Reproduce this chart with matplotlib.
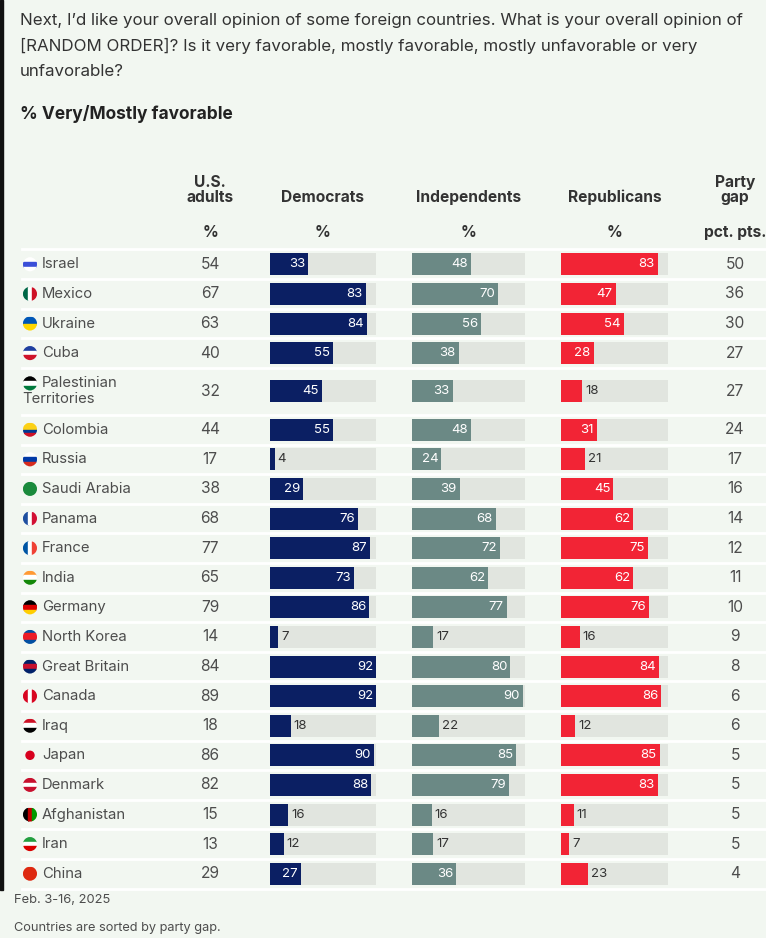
import matplotlib
matplotlib.use("Agg")
from matplotlib import pyplot as plt
from matplotlib.patches import Rectangle, Circle

plt.rcParams['font.family'] = ['Inter', 'DejaVu Sans']

countries = ["Israel", "Mexico", "Ukraine", "Cuba", "Palestinian\nTerritories", "Colombia",
             "Russia", "Saudi Arabia", "Panama", "France", "India", "Germany", "North Korea",
             "Great Britain", "Canada", "Iraq", "Japan", "Denmark", "Afghanistan", "Iran", "China"]
us_adults = [54, 67, 63, 40, 32, 44, 17, 38, 68, 77, 65, 79, 14, 84, 89, 18, 86, 82, 15, 13, 29]
democrats = [33, 83, 84, 55, 45, 55, 4, 29, 76, 87, 73, 86, 7, 92, 92, 18, 90, 88, 16, 12, 27]
independents = [48, 70, 56, 38, 33, 48, 24, 39, 68, 72, 62, 77, 17, 80, 90, 22, 85, 79, 16, 17, 36]
republicans = [83, 47, 54, 28, 18, 31, 21, 45, 62, 75, 62, 76, 16, 84, 86, 12, 85, 83, 11, 7, 23]
party_gap = [50, 36, 30, 27, 27, 24, 17, 16, 14, 12, 11, 10, 9, 8, 6, 6, 5, 5, 5, 5, 4]

# flag colours: (orientation, stripes, centre dot)
flags = [
    ("h", ["#ffffff", "#3b4fd8", "#ffffff"], None),
    ("v", ["#006847", "#ffffff", "#ce1126"], None),
    ("h", ["#0057b7", "#ffd700"], None),
    ("h", ["#1f3fa0", "#ffffff", "#cf142b"], None),
    ("h", ["#000000", "#ffffff", "#007a3d"], None),
    ("h", ["#fcd116", "#fcd116", "#003893", "#ce1126"], None),
    ("h", ["#ffffff", "#0039a6", "#d52b1e"], None),
    ("h", ["#1a8a3c"], None),
    ("v", ["#1f4fa0", "#ffffff", "#d21034"], None),
    ("v", ["#0055a4", "#ffffff", "#ef4135"], None),
    ("h", ["#ff9933", "#ffffff", "#138808"], None),
    ("h", ["#000000", "#dd0000", "#ffce00"], None),
    ("h", ["#024fa2", "#ed1c27", "#ed1c27", "#024fa2"], None),
    ("h", ["#012169", "#c8102e", "#012169"], None),
    ("v", ["#d80621", "#ffffff", "#d80621"], None),
    ("h", ["#ce1126", "#ffffff", "#000000"], None),
    ("h", ["#f2f7f1"], "#d8001e"),
    ("h", ["#c8102e", "#ffffff", "#c8102e"], None),
    ("v", ["#000000", "#be0000", "#009900"], None),
    ("h", ["#239f40", "#ffffff", "#da0000"], None),
    ("h", ["#de2910"], None),
]

bg = "#f2f7f1"
track = "#e1e5df"
txt = "#4d4d4d"
head = "#333333"

W, H = 766, 938
fig = plt.figure(figsize=(W / 100, H / 100), dpi=100, facecolor=bg)
ax = fig.add_axes([0, 0, 1, 1])
ax.set_xlim(0, W)
ax.set_ylim(H, 0)
ax.axis("off")
ax.add_patch(Rectangle((0, 0), W, H, color=bg, zorder=0))
ax.add_patch(Rectangle((0, 0), 3, 890, color="#111111", zorder=1))

# question text
ax.text(20, 20, "Next, I\u2019d like your overall opinion of some foreign countries. What is your overall opinion of",
        fontsize=12.2, color=head, va="center")
ax.text(20, 46, "[RANDOM ORDER]? Is it very favorable, mostly favorable, mostly unfavorable or very",
        fontsize=12.2, color=head, va="center")
ax.text(20, 72, "unfavorable?", fontsize=12.2, color=head, va="center")
ax.text(20, 114, "% Very/Mostly favorable", fontsize=12.5, color="#222222", fontweight="bold", va="center")

# row layout
heights = [47 if "\n" in c else 29.6 for c in countries]
top = 249.5
centers = []
y = top
for h in heights:
    centers.append(y + h / 2)
    y += h

ax.plot([22, W], [top, top], color="white", lw=2, zorder=2)
for i in range(len(countries)):
    yb = centers[i] + heights[i] / 2
    ax.plot([22, W], [yb, yb], color="white", lw=2, zorder=2)

# headers
col_x = {"us": 210, "dem": 322, "ind": 469, "rep": 615, "gap": 735}
hk = dict(fontsize=11.2, fontweight="bold", color=head, ha="center", va="baseline")
ax.text(col_x["us"], 187, "U.S.", **hk)
ax.text(col_x["us"], 202, "adults", **hk)
ax.text(col_x["dem"], 202, "Democrats", **hk)
ax.text(col_x["ind"], 202, "Independents", **hk)
ax.text(col_x["rep"], 202, "Republicans", **hk)
ax.text(col_x["gap"], 187, "Party", **hk)
ax.text(col_x["gap"], 202, "gap", **hk)
for k in ["us", "dem", "ind", "rep"]:
    ax.text(col_x[k], 237, "%", **hk)
ax.text(col_x["gap"], 237, "pct. pts.", **hk)

# country labels, flags, numbers
for i, c in enumerate(countries):
    cy = centers[i]
    if "\n" in c:
        ax.text(42, cy - 8, "Palestinian", fontsize=10.7, color=txt, va="center")
        ax.text(22, cy + 8, "Territories", fontsize=10.7, color=txt, va="center")
        fy = cy - 8
    else:
        ax.text(42, cy, c, fontsize=10.7, color=txt, va="center")
        fy = cy
    orient, cols, dot = flags[i]
    r = 7
    clip = Circle((30, fy), r, transform=ax.transData)
    n = len(cols)
    for j, col in enumerate(cols):
        if orient == "h":
            p = Rectangle((30 - r, fy - r + 2 * r * j / n), 2 * r, 2 * r / n, color=col, zorder=3)
        else:
            p = Rectangle((30 - r + 2 * r * j / n, fy - r), 2 * r / n, 2 * r, color=col, zorder=3)
        ax.add_patch(p)
        p.set_clip_path(clip)
    if dot:
        ax.add_patch(Circle((30, fy), 4, color=dot, zorder=4))
    ax.text(col_x["us"], cy, str(us_adults[i]), fontsize=11.2, color=txt, ha="center", va="center")
    ax.text(col_x["gap"], cy, str(party_gap[i]), fontsize=11.2, color=txt, ha="center", va="center")

# bar columns
bar_cols = [(270, 106, democrats, "#0b1f63"),
            (412, 113, independents, "#6b8985"),
            (561, 107, republicans, "#f22435")]
for x0, w, vals, color in bar_cols:
    bx = fig.add_axes([x0 / W, 0, w / W, 1])
    bx.set_xlim(0, 92)
    bx.set_ylim(H, 0)
    bx.axis("off")
    bx.barh(centers, [92] * len(vals), height=22, color=track, zorder=1)
    bx.barh(centers, vals, height=22, color=color, zorder=2)
    px = 92 / w
    for cy, v in zip(centers, vals):
        if v >= 24:
            bx.text(v - 3 * px, cy, str(v), fontsize=9.5, color="white", ha="right", va="center")
        else:
            bx.text(v + 3 * px, cy, str(v), fontsize=9.5, color="#333333", ha="left", va="center")

# footer
ax.text(14, 900, "Feb. 3-16, 2025", fontsize=9.3, color=txt, va="center")
ax.text(14, 928, "Countries are sorted by party gap.", fontsize=9.2, color=txt, va="center")

fig.savefig("out.png", dpi=100, facecolor=bg)
